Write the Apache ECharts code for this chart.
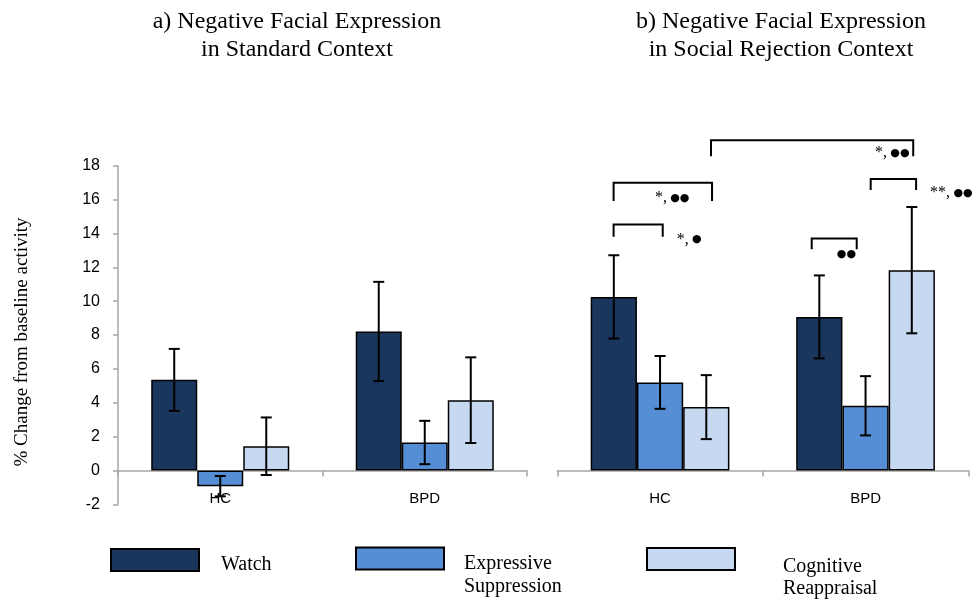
<!DOCTYPE html>
<html><head><meta charset="utf-8">
<script src="https://cdn.jsdelivr.net/npm/echarts@6/dist/echarts.min.js"></script>
<style>html,body{margin:0;padding:0;background:#fff}#c{width:973px;height:600px}</style>
</head><body><div id="c"></div><script>
// ---- data ----
const groups = ['HC', 'BPD'];
const seriesNames = ['Watch', 'Expressive Suppression', 'Cognitive Reappraisal'];
const colors = ['#1A365D', '#558ED5', '#C6D9F0'];
const yTicks = { min: -2, max: 18, step: 2 };

// a) Standard context
const stdWatch = [5.35, 8.21];
const stdWatchErr = [1.83, 2.93];
const stdSupp = [-0.93, 1.65];
const stdSuppErr = [0.6, 1.28];
const stdReap = [1.43, 4.15];
const stdReapErr = [1.7, 2.53];

// b) Social rejection context
const rejWatch = [10.25, 9.07];
const rejWatchErr = [2.46, 2.45];
const rejSupp = [5.2, 3.82];
const rejSuppErr = [1.56, 1.75];
const rejReap = [3.74, 11.83];
const rejReapErr = [1.89, 3.73];

// significance brackets in panel b: [xStart, xEnd, yTop, yLegEnd] (x: 0..2 across the two groups)
const brackets = [
  [0.748, 1.732, 19.51, 18.56],
  [0.274, 0.753, 16.99, 15.91],
  [0.274, 0.513, 14.53, 13.80],
  [1.238, 1.457, 13.70, 13.07],
  [1.525, 1.746, 17.21, 16.56]
];
const sigPos = [[1.546, 18.75], [0.475, 16.1], [0.581, 13.65], [1.36, 12.75], [1.814, 16.4]];
const sigText = [
  '{s|*,} {d|●●}',
  '{s|*,} {d|●●}',
  '{s|*,} {d|●}',
  '{d|●●}',
  '{s|**,} {d|●●}'
];

// ---- chart ----
const chart = echarts.init(document.getElementById('c'));
const serif = 'Liberation Serif';
const sans = 'Liberation Sans';
const gray = '#A6A6A6';

function barSeries(name, data, idx, axis) {
  return {
    type: 'bar', name: name, data: data,
    xAxisIndex: axis, yAxisIndex: axis,
    barWidth: '22.5%', barGap: '0%',
    itemStyle: { color: colors[idx], borderColor: '#000', borderWidth: 1.5 },
    emphasis: { disabled: true },
    z: 2
  };
}
function errSeries(vals, errs, slot, axis) {
  return {
    type: 'custom', xAxisIndex: axis, yAxisIndex: axis, z: 5, silent: true,
    data: groups.map((g, i) => [i, vals[i], errs[i]]),
    renderItem: function (params, api) {
      const cat = api.value(0), v = api.value(1), e = api.value(2);
      const bw = api.size([1, 0])[0];
      const off = slot * 0.225 * bw;
      const t = api.coord([cat, v + e]);
      const b = api.coord([cat, v - e]);
      const x = t[0] + off, cw = 5.5;
      const st = { stroke: '#000', lineWidth: 2 };
      return { type: 'group', children: [
        { type: 'line', shape: { x1: x, y1: t[1], x2: x, y2: b[1] }, style: st },
        { type: 'line', shape: { x1: x - cw, y1: t[1], x2: x + cw, y2: t[1] }, style: st },
        { type: 'line', shape: { x1: x - cw, y1: b[1], x2: x + cw, y2: b[1] }, style: st }
      ] };
    }
  };
}

const catAxis = (grid) => ({
  type: 'category', gridIndex: grid, data: groups,
  axisLine: { onZero: true, lineStyle: { color: gray, width: 1.5 } },
  axisTick: { show: true, length: 6, lineStyle: { color: gray, width: 1.5 } },
  axisLabel: { margin: -13, fontFamily: sans, fontSize: 15, color: '#000' }
});

function legendItem(name, left, top, padLeft, blank, lh, lines) {
  return {
    data: [name], left: left, top: top, padding: 0, itemWidth: 88, itemHeight: 22, icon: 'rect',
    selectedMode: false,
    formatter: () => '{b| }\n' + lines.map(l => '{a|' + l + '}').join('\n'),
    textStyle: {
      padding: [0, 0, 0, padLeft],
      rich: {
        b: { fontSize: 4, lineHeight: blank },
        a: { fontFamily: serif, fontSize: 20, lineHeight: lh, color: '#000' }
      }
    }
  };
}

chart.setOption({
  animation: false,
  backgroundColor: '#fff',
  title: [
    { text: 'a) Negative Facial Expression\nin Standard Context', left: 297, top: 8, padding: 0, textAlign: 'center',
      textStyle: { fontFamily: serif, fontSize: 24, fontWeight: 'normal', lineHeight: 28, color: '#000' } },
    { text: 'b) Negative Facial Expression\nin Social Rejection Context', left: 781, top: 8, padding: 0, textAlign: 'center',
      textStyle: { fontFamily: serif, fontSize: 24, fontWeight: 'normal', lineHeight: 28, color: '#000' } }
  ],
  legend: [
    legendItem('Watch', 110, 548, 17, 10, 20, ['Watch']),
    legendItem('Expressive Suppression', 355, 533.5, 15, 33, 23, ['Expressive', 'Suppression']),
    legendItem('Cognitive Reappraisal', 646, 535, 43, 38, 22, ['Cognitive', 'Reappraisal'])
  ],
  grid: [
    { left: 118, top: 165.7, width: 409, height: 338.6 },
    { left: 557.3, top: 165.7, width: 411, height: 338.6 }
  ],
  xAxis: [
    catAxis(0),
    catAxis(1),
    { type: 'value', gridIndex: 1, min: 0, max: 2, show: false }
  ],
  yAxis: [
    { type: 'value', gridIndex: 0, min: yTicks.min, max: yTicks.max, interval: yTicks.step,
      name: '% Change from baseline activity', nameLocation: 'middle', nameGap: 86,
      nameTextStyle: { fontFamily: serif, fontSize: 19, color: '#000', padding: [0, 14, 0, 0] },
      axisLine: { show: true, onZero: false, lineStyle: { color: gray, width: 1.5 } },
      axisTick: { show: true, length: 5, lineStyle: { color: gray, width: 1.5 } },
      axisLabel: { margin: 18, fontFamily: sans, fontSize: 16, color: '#000' },
      splitLine: { show: false } },
    { type: 'value', gridIndex: 1, min: yTicks.min, max: yTicks.max, interval: yTicks.step, show: false,
      splitLine: { show: false } }
  ],
  series: [
    barSeries(seriesNames[0], stdWatch, 0, 0),
    barSeries(seriesNames[1], stdSupp, 1, 0),
    barSeries(seriesNames[2], stdReap, 2, 0),
    barSeries(seriesNames[0], rejWatch, 0, 1),
    barSeries(seriesNames[1], rejSupp, 1, 1),
    barSeries(seriesNames[2], rejReap, 2, 1),
    errSeries(stdWatch, stdWatchErr, -1, 0),
    errSeries(stdSupp, stdSuppErr, 0, 0),
    errSeries(stdReap, stdReapErr, 1, 0),
    errSeries(rejWatch, rejWatchErr, -1, 1),
    errSeries(rejSupp, rejSuppErr, 0, 1),
    errSeries(rejReap, rejReapErr, 1, 1),
    {
      type: 'custom', xAxisIndex: 2, yAxisIndex: 1, z: 6, silent: true, clip: false,
      data: brackets,
      renderItem: function (params, api) {
        const a = api.coord([api.value(0), api.value(3)]);
        const b = api.coord([api.value(0), api.value(2)]);
        const c = api.coord([api.value(1), api.value(2)]);
        const d = api.coord([api.value(1), api.value(3)]);
        return { type: 'polyline', shape: { points: [a, b, c, d] },
          style: { stroke: '#000', lineWidth: 2, fill: null } };
      }
    },
    {
      type: 'custom', xAxisIndex: 2, yAxisIndex: 1, z: 6, silent: true, clip: false,
      data: sigPos,
      renderItem: function (params, api) {
        const p = api.coord([api.value(0), api.value(1)]);
        return { type: 'text', x: p[0], y: p[1], style: {
          text: sigText[params.dataIndex], align: 'left', verticalAlign: 'middle',
          rich: {
            s: { fontFamily: serif, fontSize: 16, color: '#333' },
            d: { fontFamily: 'DejaVu Sans', fontSize: 11, color: '#000' }
          } } };
      }
    }
  ]
});
</script></body></html>
